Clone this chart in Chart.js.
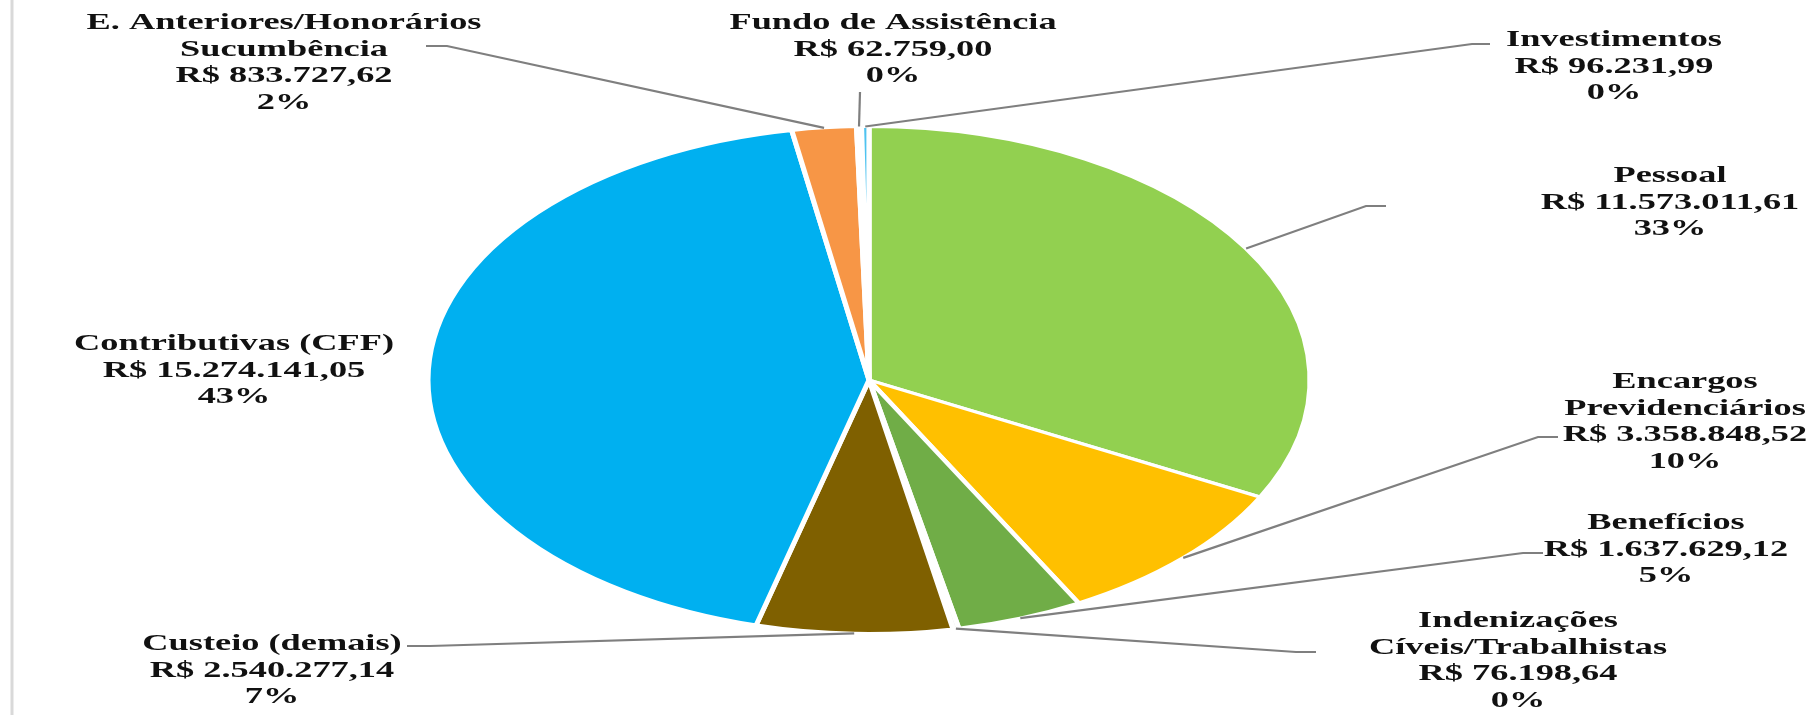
<!DOCTYPE html>
<html>
<head>
<meta charset="utf-8">
<script src="https://cdn.jsdelivr.net/npm/chart.js@4/dist/chart.umd.min.js"></script>
<style>
  html, body { margin: 0; padding: 0; background: #fff; }
  #wrap { width: 1814px; height: 715px; position: relative; }
</style>
</head>
<body>
<div id="wrap"><canvas id="myChart" width="1814" height="715"></canvas></div>
<script>
// data
const categories = [
    'Pessoal', 'Encargos Previdenciários', 'Benefícios', 'Indenizações Cíveis/Trabalhistas',
    'Custeio (demais)', 'Contributivas (CFF)', 'E. Anteriores/Honorários Sucumbência',
    'Fundo de Assistência', 'Investimentos'
];
const nameLines = [
    ['Pessoal'], ['Encargos', 'Previdenciários'], ['Benefícios'], ['Indenizações', 'Cíveis/Trabalhistas'],
    ['Custeio (demais)'], ['Contributivas (CFF)'], ['E. Anteriores/Honorários', 'Sucumbência'],
    ['Fundo de Assistência'], ['Investimentos']
];
const amounts = [11573011.61, 3358848.52, 1637629.12, 76198.64, 2540277.14, 15274141.05, 833727.62, 62759.00, 96231.99];
const percentLabels = ['33%', '10%', '5%', '0%', '7%', '43%', '2%', '0%', '0%'];
const sliceColors = ['#92D050', '#FFC000', '#70AD47', '#F2F2F2', '#7F6000', '#00B0F0', '#F79646', '#F2F2F2', '#4FC3F0'];

// label layout (page pixels): centre x, first line centre y, leader start and elbow
const labelX = [1670, 1685, 1666, 1518, 272, 234, 284, 893, 1614];
const labelY = [176, 382, 523, 621, 644, 344, 23, 23, 40];
const leaderStart = [[1386, 206], [1558, 437], [1543, 553], [1316, 652], [407, 646], null, [426, 46], [860, 92], [1490, 44]];
const leaderElbow = [1366, 1538, 1523, 1296, 430, null, 447, 860, 1472];

const stretchX = 1.74;   // pie is an ellipse
const textStretch = 1.58;
const lineH = 26.7;

function brl(v) {
    const parts = v.toFixed(2).split('.');
    const int = parts[0].replace(/\B(?=(\d{3})+(?!\d))/g, '.');
    return 'R$ ' + int + ',' + parts[1];
}

const ellipsePlugin = {
    id: 'ellipse',
    beforeDatasetsDraw(chart) {
        const a = chart.getDatasetMeta(0).data[0];
        const ctx = chart.ctx;
        ctx.save();
        ctx.translate(a.x, a.y);
        ctx.scale(stretchX, 1);
        ctx.translate(-a.x, -a.y);
    },
    afterDatasetsDraw(chart) {
        chart.ctx.restore();
    }
};

const labelPlugin = {
    id: 'labels',
    afterDraw(chart) {
        const ctx = chart.ctx;
        const arcs = chart.getDatasetMeta(0).data;
        ctx.save();

        // left frame edge
        ctx.strokeStyle = '#D9D9D9';
        ctx.lineWidth = 3;
        ctx.beginPath();
        ctx.moveTo(12, 0);
        ctx.lineTo(12, 715);
        ctx.stroke();

        // leader lines
        ctx.strokeStyle = '#7F7F7F';
        ctx.lineWidth = 2.2;
        arcs.forEach((el, i) => {
            if (!leaderStart[i]) return;
            const mid = (el.startAngle + el.endAngle) / 2;
            const px = el.x + stretchX * el.outerRadius * Math.cos(mid);
            const py = el.y + el.outerRadius * Math.sin(mid);
            ctx.beginPath();
            ctx.moveTo(leaderStart[i][0], leaderStart[i][1]);
            ctx.lineTo(leaderElbow[i], leaderStart[i][1]);
            ctx.lineTo(px, py);
            ctx.stroke();
        });

        // text
        ctx.fillStyle = '#111111';
        ctx.font = 'bold 23px "Liberation Serif", serif';
        ctx.textAlign = 'center';
        ctx.textBaseline = 'middle';
        categories.forEach((c, i) => {
            const lines = nameLines[i].concat([brl(amounts[i]), percentLabels[i]]);
            lines.forEach((t, j) => {
                ctx.save();
                ctx.translate(labelX[i], labelY[i] + j * lineH);
                ctx.scale(textStretch, 1);
                ctx.fillText(t, 0, 0);
                ctx.restore();
            });
        });
        ctx.restore();
    }
};

const ctx = document.getElementById('myChart').getContext('2d');
const myChart = new Chart(ctx, {
    type: 'pie',
    data: {
        labels: categories,
        datasets: [{
            data: amounts,
            backgroundColor: sliceColors,
            borderColor: '#FFFFFF',
            borderWidth: 3,
            clip: false
        }]
    },
    options: {
        responsive: false,
        animation: false,
        events: [],
        layout: { padding: { top: 125, bottom: 80, left: 0, right: 76 } },
        plugins: {
            legend: { display: false },
            tooltip: { enabled: false }
        }
    },
    plugins: [ellipsePlugin, labelPlugin]
});
</script>
</body>
</html>
